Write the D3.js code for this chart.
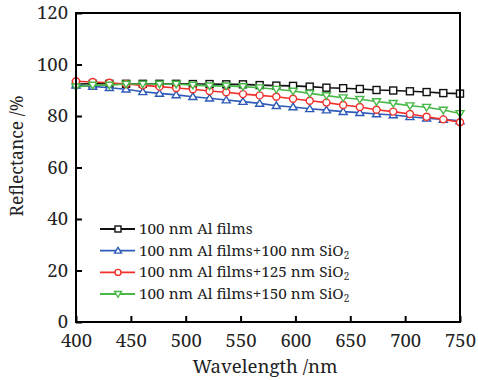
<!DOCTYPE html>
<html><head><meta charset="utf-8">
<script src="https://cdn.jsdelivr.net/npm/d3@7"></script>
<style>body{margin:0;background:#fff}svg{display:block}</style>
</head><body>
<svg id="c" width="478" height="380"></svg>
<script>
const wavelength = d3.range(24).map(i => 400 + i * 350 / 23);
const alFilms = [92.4,92.5,92.5,92.5,92.5,92.5,92.5,92.4,92.4,92.3,92.3,92.0,91.8,91.7,91.4,91.0,90.8,90.5,90.1,89.9,89.6,89.3,88.9,88.7];
const sio2_100 = [92.0,91.5,91.0,90.4,89.4,88.8,88.2,87.5,86.9,86.2,85.6,84.9,84.0,83.5,82.8,82.3,81.7,81.3,80.8,80.4,79.7,79.1,78.7,78.1];
const sio2_125 = [93.5,93.2,92.9,92.4,91.9,91.4,90.9,90.4,89.7,89.2,88.5,88.0,87.5,86.7,85.9,85.2,84.3,83.5,82.4,81.7,80.8,79.7,78.7,77.6];
const sio2_150 = [91.3,92.0,92.0,92.4,92.4,92.4,92.4,92.0,91.7,91.7,91.4,91.0,90.4,89.7,88.8,87.9,87.1,86.5,85.6,84.9,84.0,83.4,82.3,81.0];
const seriesNames = ["100 nm Al films","100 nm Al films+100 nm SiO","100 nm Al films+125 nm SiO","100 nm Al films+150 nm SiO"];
const seriesSub = ["","2","2","2"];
const seriesColors = ["#111111","#2f5bb8","#f2302b","#48b848"];
const seriesMarkers = ["square","triUp","circle","triDown"];
const xTicks = [400,450,500,550,600,650,700,750];
const yTicks = [0,20,40,60,80,100,120];

const FONT = '"Noto Serif", "Liberation Serif", serif';
const series = [alFilms, sio2_100, sio2_125, sio2_150];
const svg = d3.select("#c");
const L = 76, R = 460, T = 13, B = 322;
const x = d3.scaleLinear().domain([400,750]).range([L,R]);
const y = d3.scaleLinear().domain([0,120]).range([B,T]);

function marker(g, type, cx, cy, s, color) {
  if (type === "square") {
    g.append("rect").attr("x", cx - s/2).attr("y", cy - s/2).attr("width", s).attr("height", s)
      .attr("fill", "#fff").attr("stroke", color).attr("stroke-width", 1.4);
  } else if (type === "circle") {
    g.append("circle").attr("cx", cx).attr("cy", cy).attr("r", s/2)
      .attr("fill", "#fff").attr("stroke", color).attr("stroke-width", 1.4);
  } else {
    const h = s * 0.9, w = s * 1.15;
    const pts = type === "triUp"
      ? [[cx, cy - h*0.6],[cx - w/2, cy + h*0.45],[cx + w/2, cy + h*0.45]]
      : [[cx, cy + h*0.6],[cx - w/2, cy - h*0.45],[cx + w/2, cy - h*0.45]];
    g.append("polygon").attr("points", pts.map(p => p.join(",")).join(" "))
      .attr("fill", "#fff").attr("stroke", color).attr("stroke-width", 1.4);
  }
}

const line = d3.line().x((d,i) => x(wavelength[i])).y(d => y(d));
series.forEach((s, k) => {
  const g = svg.append("g");
  g.append("path").attr("d", line(s)).attr("fill", "none").attr("stroke", seriesColors[k]).attr("stroke-width", 1.6);
  s.forEach((v, i) => marker(g, seriesMarkers[k], x(wavelength[i]), y(v), 7, seriesColors[k]));
});

// frame
svg.append("rect").attr("x", L).attr("y", T).attr("width", R - L).attr("height", B - T)
  .attr("fill", "none").attr("stroke", "#000").attr("stroke-width", 2);

// axes
const xAxis = svg.append("g").attr("transform", `translate(0,${B})`)
  .call(d3.axisBottom(x).tickValues(xTicks).tickSize(-6).tickFormat(d3.format("d")));
const yAxis = svg.append("g").attr("transform", `translate(${L},0)`)
  .call(d3.axisLeft(y).tickValues(yTicks).tickSize(-6).tickPadding(8).tickFormat(d3.format("d")));
[xAxis, yAxis].forEach(a => {
  a.select(".domain").remove();
  a.selectAll(".tick line").attr("stroke", "#000").attr("stroke-width", 2);
  a.selectAll(".tick text").style("font-family", FONT).style("font-size", "18.5px").attr("fill", "#222");
});
xAxis.selectAll(".tick text").attr("y", 12).attr("dy", "0.72em");
yAxis.selectAll(".tick text").attr("dy", "0.32em");

svg.append("text").attr("x", (L + R) / 2 - 3).attr("y", 373).attr("text-anchor", "middle")
  .style("font-family", FONT).style("font-size", "18.6px").attr("fill", "#222").text("Wavelength /nm");
svg.append("text").attr("transform", `translate(23,${156}) rotate(-90)`).attr("text-anchor", "middle")
  .style("font-family", FONT).style("font-size", "17.5px").attr("fill", "#222").text("Reflectance /%");

// legend
const legY = [229, 250.7, 272.4, 294];
seriesNames.forEach((name, k) => {
  const g = svg.append("g");
  g.append("line").attr("x1", 100).attr("x2", 135).attr("y1", legY[k]).attr("y2", legY[k])
    .attr("stroke", seriesColors[k]).attr("stroke-width", 1.8);
  marker(g, seriesMarkers[k], 118, legY[k], 6, seriesColors[k]);
  const t = g.append("text").attr("x", 139).attr("y", legY[k] + 5)
    .style("font-family", FONT).style("font-size", "15.3px").attr("fill", "#222");
  t.append("tspan").text(name);
  if (seriesSub[k]) t.append("tspan").style("font-size", "10px").attr("dy", 3).text(seriesSub[k]);
});
</script>
</body></html>
